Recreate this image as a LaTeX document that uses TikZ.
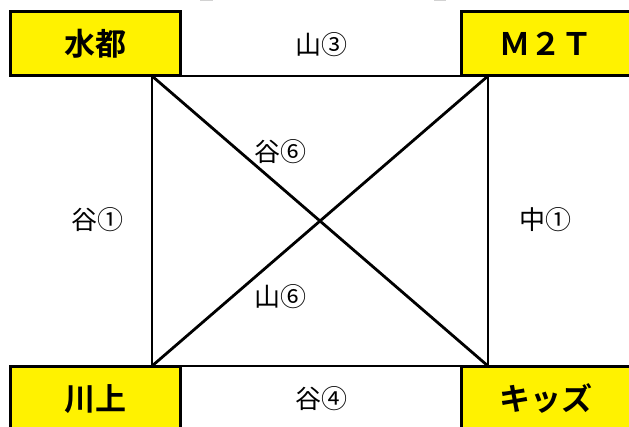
\documentclass[tikz,border=0pt]{standalone}
\usepackage{fontspec}
\setmainfont{Noto Sans CJK JP}[BoldFont={Noto Sans CJK JP Bold}]
\usetikzlibrary{calc}

\begin{document}
\begin{tikzpicture}[x=1pt, y=-1pt,
        S/.style={draw, line width=3pt, fill=yellow, minimum width=170pt,
            minimum height=64pt, inner sep=0pt,
            font=\fontsize{31}{31}\bfseries\selectfont},
        L/.style={inner sep=0pt, font=\fontsize{26}{26}\selectfont},
        E/.style={line width=1.5pt},
        D/.style={line width=2.8pt}
    ]
    \useasboundingbox (0,0) rectangle (629,427);
    \fill[gray!35] (200,0) rectangle (213,1.5);
    \fill[gray!35] (434,0) rectangle (446,1.5);

    % square corners
    \coordinate (NW) at (152,76);
    \coordinate (NE) at (488,76);
    \coordinate (SW) at (152,366);
    \coordinate (SE) at (488,366);

    \draw[E] (NW) -- (NE) -- (SE) -- (SW) -- cycle;
    \draw[D] (NW) -- (SE);
    \draw[D] (NE) -- (SW);

    % stations
    \node[S] (mizuto) at (95,44) {水都};
    \node[S] (mtwot) at (546,44) {Ｍ２Ｔ};
    \node[S] (kawakami) at (95,399) {川上};
    \node[S] (kids) at (546,399) {キッズ};

    % labels
    \node[L] (top) at (321,45) {山③};
    \node[L] (bottom) at (321,399) {谷④};
    \node[L] (left) at (97,220) {谷①};
    \node[L] (right) at (545,220) {中①};
    \node[L] (diagA) at (280,152) {谷⑥};
    \node[L] (diagB) at (280,297) {山⑥};
\end{tikzpicture}
\end{document}
